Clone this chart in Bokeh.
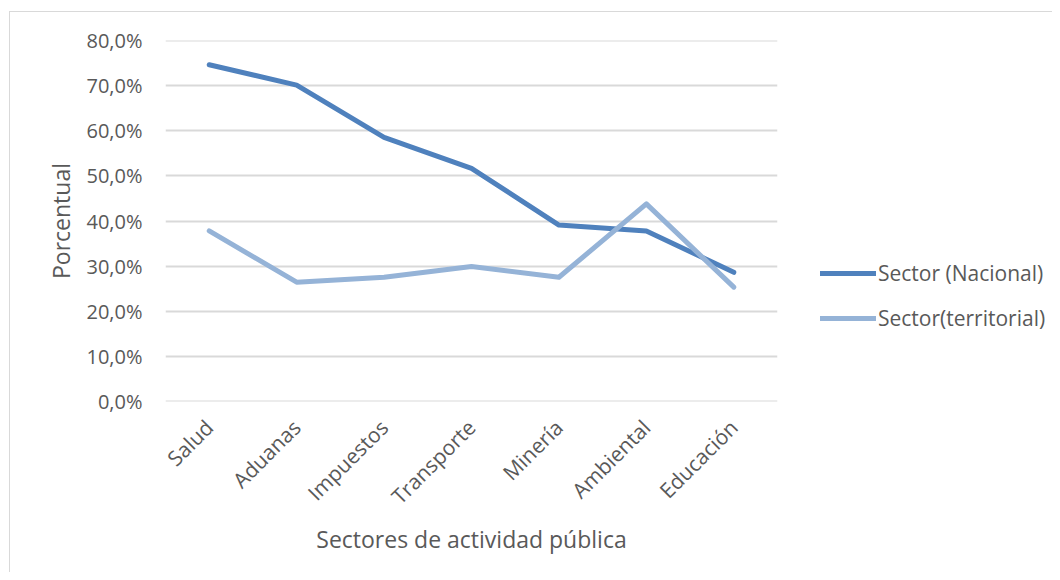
from bokeh.plotting import figure
from bokeh.layouts import row
from bokeh.models import Range1d, FactorRange, Legend, LegendItem, FixedTicker, CustomJSTickFormatter
from bokeh.embed import file_html
from bokeh.resources import INLINE
import math

categories = ["Salud", "Aduanas", "Impuestos", "Transporte", "Minería", "Ambiental", "Educación"]
nacional = [0.747, 0.702, 0.586, 0.517, 0.391, 0.378, 0.286]
territorial = [0.378, 0.264, 0.275, 0.299, 0.275, 0.438, 0.253]
series_names = ["Sector (Nacional)", "Sector(territorial)"]
y_ticks = [0.0, 0.1, 0.2, 0.3, 0.4, 0.5, 0.6, 0.7, 0.8]

FONT = "Open Sans"
TXT = "#595959"
GRID = "#D9D9D9"
C1 = "#4F81BD"
C2 = "#95B3D7"

p = figure(
    width=800, height=572,
    x_range=FactorRange(*categories, range_padding=0),
    y_range=Range1d(-0.001, 0.801),
    output_backend="svg", toolbar_location=None,
    min_border_left=165, min_border_right=23, min_border_top=40, min_border_bottom=171,
)
p.outline_line_color = None
p.background_fill_color = "white"
p.border_fill_alpha = 0

p.line(categories, nacional, line_color=C1, line_width=5, line_cap="round", line_join="round")
p.line(categories, territorial, line_color=C2, line_width=5, line_cap="round", line_join="round")

p.xgrid.grid_line_color = None
p.ygrid.grid_line_color = GRID
p.ygrid.grid_line_width = 2
p.yaxis.ticker = FixedTicker(ticks=y_ticks)
p.yaxis.formatter = CustomJSTickFormatter(code="return (tick*100).toFixed(1).replace('.', ',') + '%';")
p.yaxis.axis_line_color = None
p.yaxis.major_tick_line_color = None
p.yaxis.minor_tick_line_color = None
p.yaxis.major_label_standoff = 17
p.yaxis.major_label_text_font = FONT
p.yaxis.major_label_text_font_size = "20px"
p.yaxis.major_label_text_color = TXT
p.yaxis.axis_label = "Porcentual"
p.yaxis.axis_label_text_font = FONT
p.yaxis.axis_label_text_font_size = "23px"
p.yaxis.axis_label_text_font_style = "normal"
p.yaxis.axis_label_text_color = TXT
p.yaxis.axis_label_standoff = 6

p.xaxis.axis_line_color = None
p.xaxis.major_tick_line_color = None
p.xaxis.minor_tick_line_color = None
p.xaxis.major_label_orientation = math.pi / 4
p.xaxis.major_label_standoff = 16
p.xaxis.major_label_text_font = FONT
p.xaxis.major_label_text_font_size = "21px"
p.xaxis.major_label_text_color = TXT
p.xaxis.axis_label = "Sectores de actividad pública"
p.xaxis.axis_label_text_font = FONT
p.xaxis.axis_label_text_font_size = "23px"
p.xaxis.axis_label_text_font_style = "normal"
p.xaxis.axis_label_text_color = TXT
p.xaxis.axis_label_standoff = 0

# legend panel (series re-drawn here only so the legend has glyphs; they fall outside its range)
q = figure(
    width=252, height=572,
    x_range=FactorRange(*categories), y_range=Range1d(5, 6),
    x_axis_type=None, y_axis_type=None,
    output_backend="svg", toolbar_location=None,
    min_border_left=0, min_border_right=0, min_border_top=40, min_border_bottom=171,
)
q.outline_line_color = None
q.background_fill_alpha = 0
q.border_fill_alpha = 0
q.grid.grid_line_color = None
l1 = q.line(categories, nacional, line_color=C1, line_width=5, line_cap="round")
l2 = q.line(categories, territorial, line_color=C2, line_width=5, line_cap="round")
legend = Legend(
    items=[LegendItem(label=series_names[0], renderers=[l1]),
           LegendItem(label=series_names[1], renderers=[l2])],
    location=(20, 69),
    glyph_width=56, glyph_height=24, label_height=24, label_standoff=2, spacing=17,
    label_text_font=FONT, label_text_font_size="21px", label_text_color=TXT,
    label_text_baseline="middle",
    border_line_color=None, background_fill_alpha=0, padding=0, margin=0,
)
q.add_layout(legend)

layout = row(p, q, spacing=0)
layout.styles = {
    "background": "linear-gradient(#d9d9d9,#d9d9d9) 9px 11px / 1px 100% no-repeat, "
                  "linear-gradient(#d9d9d9,#d9d9d9) 9px 11px / 100% 1px no-repeat, white"
}

open("out.html", "w").write(file_html(layout, INLINE))
